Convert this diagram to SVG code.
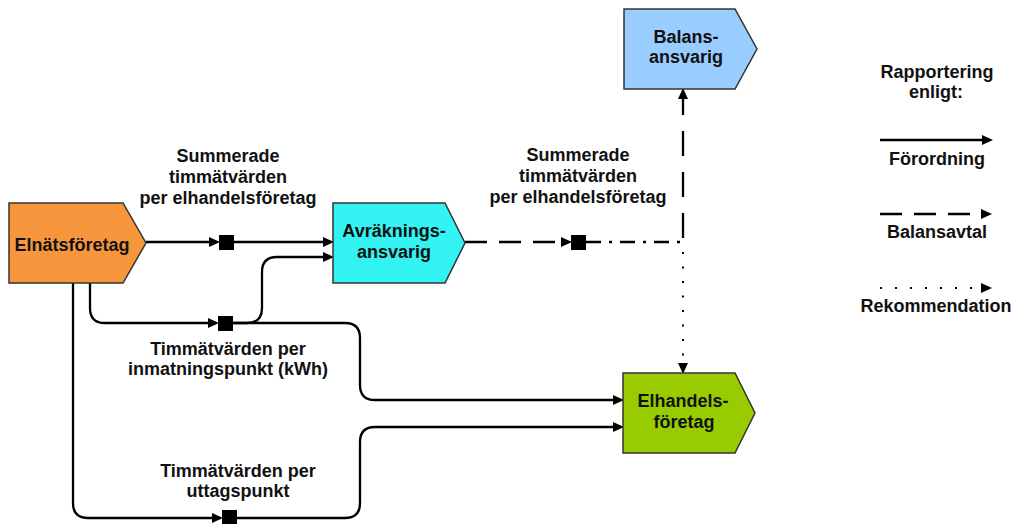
<svg xmlns="http://www.w3.org/2000/svg" width="1013" height="524" viewBox="0 0 1013 524">
<style>
text{font-family:"Liberation Sans",Arial,sans-serif;font-weight:bold;font-size:18px;fill:#111;text-anchor:middle}
.node{stroke:#333;stroke-width:1.5}
.ln{fill:none;stroke:#000;stroke-width:2.3}
.dash{stroke-dasharray:22 12}
.dashv{stroke-dasharray:25 16}
.dashdot{stroke-dasharray:15 8 3 8}
.dot{stroke-width:2;stroke-dasharray:2 12.5}
.sq{fill:#000}
</style>
<defs>
<marker id="ah" markerUnits="userSpaceOnUse" markerWidth="12" markerHeight="12" refX="2" refY="5" orient="auto">
<path d="M0,0 L11,5 L0,10 Z" fill="#000"/>
</marker>
</defs>
<g id="connectors">
<path class="ln" d="M146,242 H211" marker-end="url(#ah)"/>
<rect class="sq" x="219" y="235" width="15" height="15"/>
<path class="ln" d="M234,242 H325" marker-end="url(#ah)"/>
<path class="ln" d="M90,283 V308 Q90,323 105,323 H210" marker-end="url(#ah)"/>
<rect class="sq" x="218" y="316" width="15" height="15"/>
<path class="ln" d="M233,323 H247 Q262,323 262,308 V272 Q262,257 277,257 H325" marker-end="url(#ah)"/>
<path class="ln" d="M233,323 H345 Q360,323 360,338 V385 Q360,400 375,400 H615" marker-end="url(#ah)"/>
<path class="ln" d="M73,283 V503 Q73,518 88,518 H214" marker-end="url(#ah)"/>
<rect class="sq" x="222" y="510" width="15" height="15"/>
<path class="ln" d="M237,518 H345 Q360,518 360,503 V442 Q360,427 375,427 H615" marker-end="url(#ah)"/>
<path class="ln dash" d="M465,242 H563" marker-end="url(#ah)"/>
<rect class="sq" x="571" y="235" width="15" height="15"/>
<path class="ln dashdot" d="M586,242 H683"/>
<path class="ln dashv" d="M683,238 V97" marker-end="url(#ah)"/>
<path class="ln dot" d="M683,252 V365" marker-end="url(#ah)"/>
</g>
<g id="elnat">
<path class="node" d="M9,203 H123 L146,243 L123,283 H9 Z" fill="#F7963C"/>
<text x="72" y="251">Elnätsföretag</text>
</g>
<g id="avrakning">
<path class="node" d="M333,203 H445 L465,243 L445,283 H333 Z" fill="#33F2F2"/>
<text x="394" y="237">Avräknings-</text>
<text x="394" y="258">ansvarig</text>
</g>
<g id="balans">
<path class="node" d="M624,9 H735 L757,49 L735,89 H624 Z" fill="#99CCFF"/>
<text x="686" y="43">Balans-</text>
<text x="686" y="63">ansvarig</text>
</g>
<g id="elhandel">
<path class="node" d="M623,373 H735 L755,413 L735,453 H623 Z" fill="#99CC00"/>
<text x="683" y="407">Elhandels-</text>
<text x="684" y="428">företag</text>
</g>
<g id="labels">
<text x="228" y="162">Summerade</text>
<text x="228" y="183">timmätvärden</text>
<text x="228" y="204">per elhandelsföretag</text>
<text x="578" y="161">Summerade</text>
<text x="578" y="182">timmätvärden</text>
<text x="578" y="203">per elhandelsföretag</text>
<text x="228" y="355">Timmätvärden per</text>
<text x="228" y="375">inmatningspunkt (kWh)</text>
<text x="238" y="477">Timmätvärden per</text>
<text x="238" y="497">uttagspunkt</text>
</g>
<g id="legend">
<text x="937" y="78">Rapportering</text>
<text x="936" y="98">enligt:</text>
<path class="ln" d="M880,140 H984" marker-end="url(#ah)"/>
<text x="937" y="165">Förordning</text>
<path class="ln" d="M880,214 H970" style="stroke-dasharray:22 12"/>
<path d="M981,209 L992,214 L981,219 Z" fill="#000"/>
<text x="937" y="238">Balansavtal</text>
<path class="ln dot" d="M880,288 H972" style="stroke-dasharray:2 13"/>
<path d="M981,283 L992,288 L981,293 Z" fill="#000"/>
<text x="936" y="312">Rekommendation</text>
</g>
</svg>
